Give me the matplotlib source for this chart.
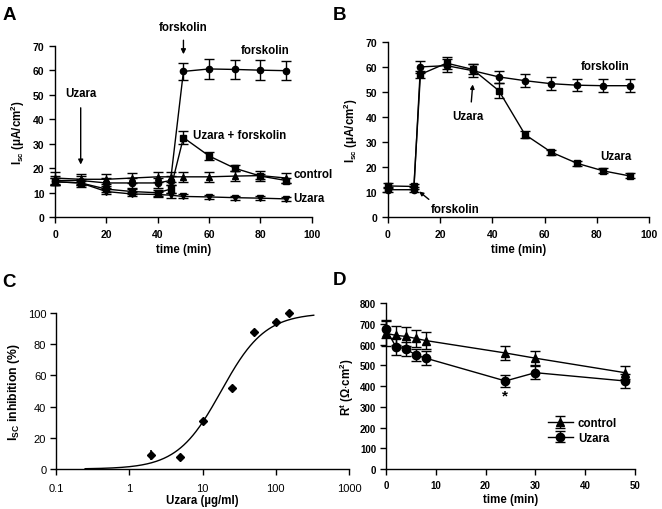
import numpy as np
import matplotlib
matplotlib.use("Agg")
import matplotlib.pyplot as plt

plt.rcParams['font.family'] = ['Liberation Sans', 'DejaVu Sans']
plt.rcParams['mathtext.fontset'] = 'custom'
plt.rcParams['mathtext.rm'] = 'Liberation Sans:bold'
plt.rcParams['mathtext.it'] = 'Liberation Sans:bold'
plt.rcParams['mathtext.bf'] = 'Liberation Sans:bold'

# ---------------- Panel A data ----------------
a_time = [0, 10, 20, 30, 40, 45, 50, 60, 70, 80, 90]
a_forsk = [15, 15, 14, 14, 14, 15, 59.5, 60.5, 60.3, 60, 59.8]
a_forsk_err = [2, 2, 2, 2, 2, 2, 3.5, 4, 4, 4, 4]
a_uzfor = [14.5, 14, 11.5, 10.5, 10, 11.5, 32.5, 25, 20, 16.8, 15]
a_uzfor_err = [1.5, 1.5, 1.2, 1.2, 1.2, 1.5, 2.5, 1.5, 1.2, 1, 1]
a_control = [16, 15.5, 15.5, 16, 16.5, 16.5, 16.5, 16.5, 16.8, 17, 16]
a_control_err = [2.5, 2, 2, 2, 2, 2, 2, 2, 2, 2, 2]
a_uzara = [14.5, 14, 10.5, 9.5, 9.3, 9, 8.5, 8.3, 8, 7.8, 7.5]
a_uzara_err = [1.5, 1, 1, 1, 1, 1, 0.8, 0.8, 0.8, 0.8, 0.8]

# ---------------- Panel B data ----------------
b_time = [0, 10, 12.5, 22.5, 32.5, 42.5, 52.5, 62.5, 72.5, 82.5, 92.5]
b_forsk = [11, 11, 60, 60.5, 58.5, 56, 54.5, 53.3, 52.7, 52.5, 52.5]
b_forsk_err = [1, 1, 2.5, 2.5, 2.5, 2.5, 2.5, 2.5, 2.5, 2.5, 2.5]
b_uzara = [12.5, 12.3, 57, 61.5, 59, 50.5, 33, 26, 21.5, 18.5, 16.5]
b_uzara_err = [1, 1, 1.5, 2.5, 2, 3, 1.5, 1, 1, 1, 1]

# ---------------- Panel C data ----------------
c_conc = [2, 5, 10, 25, 50, 100, 150]
c_inhib = [9, 7.5, 30.5, 52, 87.5, 94.5, 100]
c_err = [3, 1.5, 2, 1, 1, 1.5, 2]
c_ec50 = 18.0
c_hill = 1.45
c_fit_range = [0.25, 330]

# ---------------- Panel D data ----------------
d_time = [0, 2, 4, 6, 8, 24, 30, 48]
d_control = [655, 645, 640, 630, 620, 560, 535, 465]
d_control_err = [60, 45, 45, 40, 40, 35, 35, 30]
d_uzara = [675, 590, 580, 550, 535, 425, 465, 425]
d_uzara_err = [45, 40, 35, 30, 35, 30, 30, 35]

fig = plt.figure(figsize=(6.62, 5.10), dpi=100)

TICKFS = 7.5
LABFS = 8.3
EB = dict(color='black', lw=1.0, capsize=3.5, elinewidth=1.0, capthick=1.0, markersize=4.5)


def unclip(container):
    for child in container.get_children():
        child.set_clip_on(False)


def style(ax, bold=True, xpad=4.5, ypad=3.5):
    for s in ['top', 'right']:
        ax.spines[s].set_visible(False)
    for s in ['left', 'bottom']:
        ax.spines[s].set_linewidth(1.0)
    ax.tick_params(direction='out', length=4, width=1.0, labelsize=TICKFS)
    ax.tick_params(axis='x', pad=xpad)
    ax.tick_params(axis='y', pad=ypad)
    if bold:
        for lab in ax.get_xticklabels() + ax.get_yticklabels():
            lab.set_fontweight('bold')


# ---------- A ----------
axA = fig.add_axes([0.0831, 0.572, 0.388, 0.3365])
unclip(axA.errorbar(a_time, a_forsk, yerr=a_forsk_err, marker='o', **EB))
unclip(axA.errorbar(a_time, a_uzfor, yerr=a_uzfor_err, marker='s', **EB))
unclip(axA.errorbar(a_time, a_control, yerr=a_control_err, marker='^', **EB))
unclip(axA.errorbar(a_time, a_uzara, yerr=a_uzara_err, marker='v', **EB))
axA.set_xlim(0, 100)
axA.set_ylim(0, 70)
axA.set_xticks(np.arange(0, 101, 20))
axA.set_yticks(np.arange(0, 71, 10))
axA.set_xlabel('time (min)', fontsize=LABFS, fontweight='bold', labelpad=3)
axA.set_ylabel(r'I$_\mathregular{sc}$ ($\mu$A/cm$^\mathregular{2}$)', fontsize=LABFS, fontweight='bold', labelpad=4)
style(axA)
axA.annotate('forskolin', xy=(50, 66.5), xytext=(50, 77.5), ha='center', va='center',
             fontsize=LABFS, fontweight='bold', annotation_clip=False,
             arrowprops=dict(arrowstyle='-|>', color='black', lw=1, mutation_scale=7, shrinkA=3, shrinkB=0))
axA.annotate('Uzara', xy=(10, 21.5), xytext=(10, 50.5), ha='center', va='center',
             fontsize=LABFS, fontweight='bold',
             arrowprops=dict(arrowstyle='-|>', color='black', lw=1, mutation_scale=7, shrinkA=4, shrinkB=0))
axA.text(72.5, 68.4, 'forskolin', fontsize=LABFS, fontweight='bold', va='center')
axA.text(53.6, 33.5, 'Uzara + forskolin', fontsize=LABFS, fontweight='bold', va='center')
axA.text(92.8, 17.7, 'control', fontsize=LABFS, fontweight='bold', va='center', clip_on=False)
axA.text(92.8, 7.9, 'Uzara', fontsize=LABFS, fontweight='bold', va='center')

# ---------- B ----------
axB = fig.add_axes([0.5857, 0.572, 0.395, 0.344])
unclip(axB.errorbar(b_time, b_forsk, yerr=b_forsk_err, marker='o', **EB))
unclip(axB.errorbar(b_time, b_uzara, yerr=b_uzara_err, marker='s', **EB))
axB.set_xlim(0, 100)
axB.set_ylim(0, 70)
axB.set_xticks(np.arange(0, 101, 20))
axB.set_yticks(np.arange(0, 71, 10))
axB.set_xlabel('time (min)', fontsize=LABFS, fontweight='bold', labelpad=3)
axB.set_ylabel(r'I$_\mathregular{sc}$ ($\mu$A/cm$^\mathregular{2}$)', fontsize=LABFS, fontweight='bold', labelpad=4)
style(axB)
axB.text(74, 60.4, 'forskolin', fontsize=LABFS, fontweight='bold', va='center')
axB.text(81.3, 24.6, 'Uzara', fontsize=LABFS, fontweight='bold', va='center')
axB.annotate('Uzara', xy=(32.5, 53), xytext=(30.5, 40.3), ha='center', va='center',
             fontsize=LABFS, fontweight='bold',
             arrowprops=dict(arrowstyle='-|>', color='black', lw=1, mutation_scale=6, shrinkA=4, shrinkB=0,
                             relpos=(0.6, 1.0)))
axB.annotate('forskolin', xy=(12, 10.3), xytext=(16.5, 3.3), ha='left', va='center',
             fontsize=LABFS, fontweight='bold',
             arrowprops=dict(arrowstyle='-|>', color='black', lw=1, mutation_scale=6, shrinkA=1, shrinkB=0,
                             relpos=(0.05, 1.0)))

# ---------- C ----------
axC = fig.add_axes([0.0846, 0.0784, 0.4426, 0.306])
fit_x = np.logspace(np.log10(c_fit_range[0]), np.log10(c_fit_range[1]), 300)
fit_y = 100.0 / (1.0 + (c_ec50 / fit_x) ** c_hill)
axC.plot(fit_x, fit_y, color='black', lw=1.0)
unclip(axC.errorbar(c_conc, c_inhib, yerr=c_err, fmt='D', color='black', markersize=4, capsize=0, elinewidth=1.2))
axC.set_xscale('log')
axC.set_xlim(0.1, 1000)
axC.set_ylim(0, 100)
axC.set_xticks([0.1, 1, 10, 100, 1000])
axC.set_xticklabels(['0.1', '1', '10', '100', '1000'])
axC.minorticks_off()
axC.set_yticks(np.arange(0, 101, 20))
axC.set_xlabel('Uzara (µg/ml)', fontsize=LABFS, fontweight='bold', labelpad=1)
axC.set_ylabel(r'I$_\mathregular{SC}$ inhibition (%)', fontsize=LABFS + 0.5, fontweight='bold', labelpad=4)
style(axC, bold=False, xpad=6, ypad=3)
axC.tick_params(labelsize=8)

# ---------- D ----------
axD = fig.add_axes([0.583, 0.0784, 0.376, 0.325])
hc = axD.errorbar(d_time, d_control, yerr=d_control_err, marker='^', label='control',
                  **dict(EB, markersize=5.5))
hu = axD.errorbar(d_time, d_uzara, yerr=d_uzara_err, marker='o', label='Uzara',
                  **dict(EB, markersize=6))
unclip(hc)
unclip(hu)
axD.set_xlim(0, 50)
axD.set_ylim(0, 800)
axD.set_xticks(np.arange(0, 51, 10))
axD.set_yticks(np.arange(0, 801, 100))
axD.set_xlabel('time (min)', fontsize=LABFS, fontweight='bold', labelpad=2)
axD.set_ylabel(r'R$^\mathregular{t}$ ($\Omega$$\cdot$cm$^\mathregular{2}$)', fontsize=LABFS, fontweight='bold', labelpad=3)
style(axD, xpad=4, ypad=3)
axD.tick_params(labelsize=7)
for lab in axD.get_xticklabels() + axD.get_yticklabels():
    lab.set_fontweight('bold')
axD.text(24, 355, '*', fontsize=11, fontweight='bold', ha='center', va='center')
leg = axD.legend(loc='lower right', bbox_to_anchor=(0.97, 0.09), frameon=False,
                 prop={'weight': 'bold', 'size': LABFS}, handlelength=2.2, labelspacing=0.25,
                 handletextpad=0.4)

# panel letters
for lbl, (x, y) in zip('ABCD', [(0.004, 0.987), (0.503, 0.987), (0.004, 0.463), (0.503, 0.467)]):
    fig.text(x, y, lbl, fontsize=13.5, fontweight='bold', ha='left', va='top')

fig.savefig('out.png', dpi=100)
